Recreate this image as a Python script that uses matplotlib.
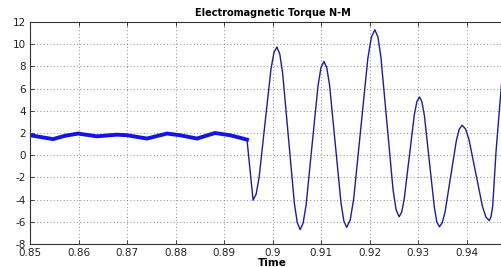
import matplotlib
matplotlib.use("Agg")
import matplotlib.pyplot as plt

plt.rcParams['axes.unicode_minus'] = False
plt.rcParams['font.family'] = ['DejaVu Sans']

# Steady part (before the disturbance)
steady_t = [0.85, 0.85474, 0.85722, 0.8599, 0.86381, 0.86794, 0.87, 0.87412,
            0.87825, 0.88093, 0.88443, 0.88814, 0.89124, 0.89392, 0.89474]
steady_v = [1.8, 1.45, 1.75, 1.95, 1.7, 1.85, 1.8, 1.5,
            1.95, 1.8, 1.5, 2.0, 1.8, 1.5, 1.4]

# Oscillating part
osc_t = [0.89474, 0.8960,
         0.89661, 0.89723, 0.89845, 0.89968, 0.90029, 0.9009,
         0.9015, 0.9021, 0.9033, 0.9045, 0.9051, 0.9057,
         0.90631, 0.90693, 0.90815, 0.90938, 0.90999, 0.9106,
         0.91119, 0.91178, 0.91295, 0.91413, 0.91471, 0.9153,
         0.91603, 0.91675, 0.9182, 0.91965, 0.92038, 0.9211,
         0.92173, 0.92235, 0.9236, 0.92485, 0.92548, 0.9261,
         0.92663, 0.92715, 0.9282, 0.92925, 0.92978, 0.9303,
         0.93081, 0.93133, 0.93235, 0.93338, 0.93389, 0.9344,
         0.93499, 0.93558, 0.93675, 0.93793, 0.93851, 0.9391,
         0.9398, 0.9405, 0.9419, 0.9433, 0.9440, 0.9447,
         0.94505, 0.9454, 0.9461, 0.9472, 0.9480]
osc_v = [1.4, -4.05,
         -3.53, -2.04, 2.85, 7.74, 9.23, 9.75,
         9.12, 7.35, 1.525, -4.30, -6.07, -6.7,
         -6.12, -4.49, 0.875, 6.24, 7.87, 8.45,
         7.88, 6.27, 0.975, -4.32, -5.93, -6.5,
         -5.82, -3.90, 2.4, 8.70, 10.62, 11.3,
         10.66, 8.84, 2.875, -3.09, -4.91, -5.55,
         -5.14, -3.97, -0.15, 3.67, 4.84, 5.25,
         4.81, 3.54, -0.6, -4.74, -6.01, -6.45,
         -6.10, -5.11, -1.875, 1.36, 2.35, 2.7,
         2.37, 1.44, -1.6, -4.64, -5.57, -5.9,
         -5.55, -4.6, 0.4, 6.3, 9.0]

xticks = [0.85, 0.86, 0.87, 0.88, 0.89, 0.90, 0.91, 0.92, 0.93, 0.94]
xticklabels = ['0.85', '0.86', '0.87', '0.88', '0.89', '0.9', '0.91', '0.92', '0.93', '0.94']
yticks = [-8, -6, -4, -2, 0, 2, 4, 6, 8, 10, 12]
yticklabels = ['-8', '-6', '-4', '-2', '0', '2', '4', '6', '8', '10', '12']

fig = plt.figure(figsize=(5.02, 2.67), dpi=100)
fig.patch.set_facecolor('white')
ax = fig.add_axes([30/502, 23/267, 485/502, 222/267])

ax.plot(steady_t, steady_v, color='#1414e6', lw=2.8, solid_joinstyle='round')
ax.plot(osc_t, osc_v, color='#1c1ca0', lw=1.0, solid_joinstyle='round')

ax.set_xlim(0.85, 0.95)
ax.set_ylim(-8, 12)
ax.set_xticks(xticks)
ax.set_xticklabels(xticklabels)
ax.set_yticks(yticks)
ax.set_yticklabels(yticklabels)
ax.tick_params(direction='in', length=3, width=0.6, labelsize=7.5, pad=3,
               top=True, right=True, colors='#222222')
ax.grid(True, color='#666666', linestyle=(0, (1, 3)), lw=0.6)
for s in ax.spines.values():
    s.set_linewidth(0.8)
    s.set_color('#333333')

ax.set_title('Electromagnetic Torque N-M', fontsize=7, fontweight='bold', pad=4)
ax.set_xlabel('Time', fontsize=7.5, fontweight='bold', labelpad=0)

fig.savefig('out.png', dpi=100)
